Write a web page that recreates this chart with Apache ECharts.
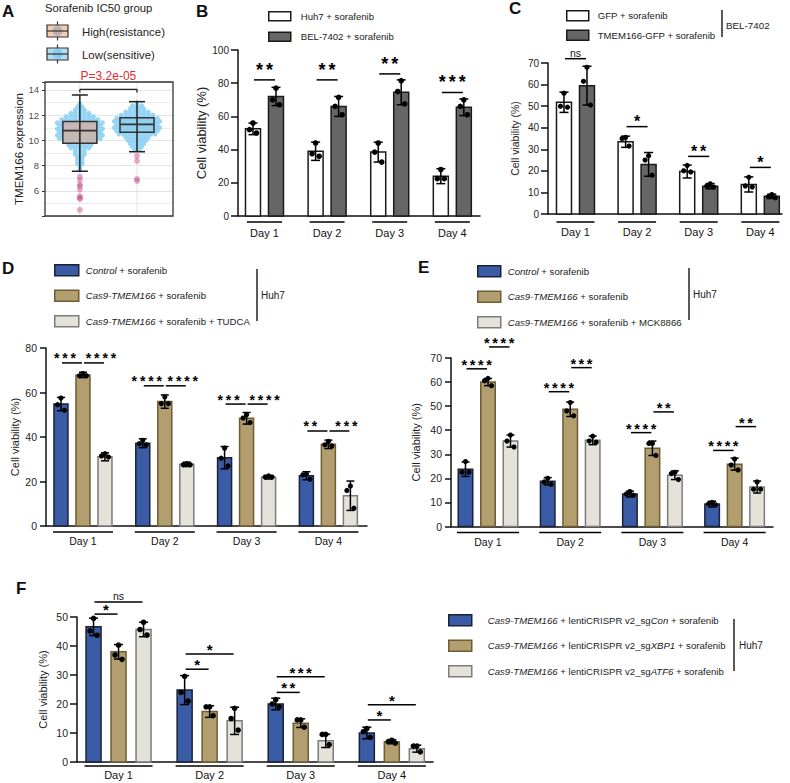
<!DOCTYPE html>
<html>
<head>
<meta charset="utf-8">
<script src="https://cdn.jsdelivr.net/npm/echarts@6/dist/echarts.min.js"></script>
<style>
html,body{margin:0;padding:0;background:#fff;}
#chart{width:790px;height:783px;}
</style>
</head>
<body>
<div id="chart"></div>
<script>
const FONT = '"Liberation Sans", Arial, Helvetica, sans-serif';
const days = ['Day 1', 'Day 2', 'Day 3', 'Day 4'];

// ---------------- Panel A ----------------
const aGroupNames = ['High(resistance)', 'Low(sensitive)'];
// [lower whisker, Q1, median, Q3, upper whisker]
const aBoxHigh = [7.55, 9.77, 10.77, 11.49, 13.6];
const aBoxLow = [9.1, 10.64, 11.27, 11.8, 13.07];
const aOutHigh = [7.12, 6.86, 6.5, 6.38, 6.1, 5.55, 5.45, 5.35, 4.48];
const aOutLow = [8.76, 8.37, 6.94, 6.78];
// swarm density: [expression, number of samples]
const aSwarmHigh = [[12.9,1],[12.65,2],[12.4,3],[12.15,5],[11.9,7],[11.65,9],[11.4,11],[11.15,10],[10.9,11],[10.65,10],[10.4,11],[10.15,10],[9.9,8],[9.65,6],[9.4,5],[9.15,3],[8.9,3],[8.65,2],[8.4,2],[8.15,2],[7.9,1],[7.65,1]];
const aSwarmLow = [[13.0,1],[12.75,3],[12.5,4],[12.25,6],[12.0,8],[11.75,10],[11.5,11],[11.25,10],[11.0,11],[10.75,10],[10.5,9],[10.25,6],[10.0,5],[9.75,4],[9.5,3],[9.25,2]];
const aTicks = [6, 8, 10, 12, 14];
const aBracket = [1, 2, 14.05];
const aPText = 'P=3.2e-05';

// ---------------- Panel B ----------------
const bNames = ['Huh7 + sorafenib', 'BEL-7402 + sorafenib'];
const bHuh7 = [52.5, 39, 38.5, 24];
const bHuh7SD = [3.5, 5.5, 6, 4.5];
const bHuh7Pts = [[56, 52, 50], [44, 37.5, 36], [44, 38.5, 32.5], [28, 22.5, 22.5]];
const bBel = [72, 66, 74.5, 65.5];
const bBelSD = [5.5, 6, 7.5, 5];
const bBelPts = [[77, 70, 67], [71.5, 66, 61], [81.5, 75, 67.5], [70, 66, 61]];
const bTicks = [0, 20, 40, 60, 80, 100];
const bSig = [[0, 0, 1, 82, '**'], [1, 0, 1, 82, '**'], [2, 0, 1, 85.6, '**'], [3, 0, 1, 74.4, '***']];

// ---------------- Panel C ----------------
const cNames = ['GFP + sorafenib', 'TMEM166-GFP + sorafenib'];
const cGFP = [51.8, 33.5, 19.7, 13.7];
const cGFPSD = [4.7, 2.6, 3, 3.5];
const cGFPPts = [[56, 50, 49.5], [35.5, 35, 31.5], [22.5, 20, 19.5], [17, 13, 12.5]];
const cTM = [59.5, 23, 12.9, 8.2];
const cTMSD = [9, 5.5, 1.2, 1];
const cTMPts = [[68, 61.5, 50.5], [27, 25, 18], [14, 13, 12.5], [9, 8, 7.5]];
const cTicks = [0, 10, 20, 30, 40, 50, 60, 70];
const cSig = [[0, 0, 1, 72, 'ns'], [1, 0, 1, 40.5, '*'], [2, 0, 1, 26.7, '**'], [3, 0, 1, 21.6, '*']];

// ---------------- Panel D ----------------
const dNames = ['Control + sorafenib', 'Cas9-TMEM166 + sorafenib', 'Cas9-TMEM166 + sorafenib + TUDCA'];
const dCtrl = [54.8, 37.2, 30.7, 22.6];
const dCtrlSD = [3, 2, 5, 1.8];
const dCtrlPts = [[57.5, 54.5, 52], [38.5, 37, 36.5], [35, 30.5, 27], [23.5, 23, 21]];
const dCas = [67.9, 55.9, 48.4, 36.7];
const dCasSD = [1.2, 3, 2.6, 1.9];
const dCasPts = [[68.5, 67.5, 67.5], [58, 55, 55], [50, 48.5, 46.5], [38, 36.5, 36]];
const dTud = [31.1, 27.7, 21.9, 13.6];
const dTudSD = [1.8, 1, 0.8, 6.6];
const dTudPts = [[32.5, 31.5, 31], [28, 27.5, 27.5], [22.5, 22, 22], [18, 16, 8]];
const dTicks = [0, 20, 40, 60, 80];
const dSig = [[0, 0, 1, 73.3, '***'], [0, 1, 2, 73.3, '****'], [1, 0, 1, 63, '****'], [1, 1, 2, 63, '****'],
              [2, 0, 1, 54.8, '***'], [2, 1, 2, 54.8, '****'], [3, 0, 1, 42.7, '**'], [3, 1, 2, 42.7, '***']];

// ---------------- Panel E ----------------
const eNames = ['Control + sorafenib', 'Cas9-TMEM166 + sorafenib', 'Cas9-TMEM166 + sorafenib + MCK8866'];
const eCtrl = [23.8, 18.8, 13.5, 9.3];
const eCtrlSD = [3, 1.5, 1.2, 1.2];
const eCtrlPts = [[27, 22.5, 22.5], [20, 18.5, 17.5], [14.5, 13.5, 13], [10, 9.5, 9]];
const eCas = [60, 48.7, 32.5, 25.9];
const eCasSD = [1.5, 3, 3, 2.5];
const eCasPts = [[61.5, 60.5, 58.5], [51.5, 48, 46], [34.5, 34.5, 29.5], [28, 25.5, 23.5]];
const eMck = [35.5, 35.8, 21.3, 16.4];
const eMckSD = [2.5, 1.8, 1.8, 2.5];
const eMckPts = [[38, 35.5, 33], [37.5, 35.5, 35], [22.5, 22, 19.5], [18.5, 15.5, 15.5]];
const eTicks = [0, 10, 20, 30, 40, 50, 60, 70];
const eSig = [[0, 0, 1, 65.5, '****'], [0, 1, 2, 74.6, '****'], [1, 0, 1, 56, '****'], [1, 1, 2, 66, '***'],
              [2, 0, 1, 39, '****'], [2, 1, 2, 47.6, '**'], [3, 0, 1, 31.6, '****'], [3, 1, 2, 41.5, '**']];

// ---------------- Panel F ----------------
const fNames = ['Cas9-TMEM166 + lentiCRISPR v2_sgCon + sorafenib', 'Cas9-TMEM166 + lentiCRISPR v2_sgXBP1 + sorafenib', 'Cas9-TMEM166 + lentiCRISPR v2_sgATF6 + sorafenib'];
const fCon = [46.6, 24.8, 20, 10];
const fConSD = [3, 5, 2, 2];
const fConPts = [[49.5, 45.2, 43.7], [29.5, 24, 21], [21.5, 20, 19], [11.5, 10.5, 8.5]];
const fXbp = [38, 17.4, 13.4, 7];
const fXbpSD = [2.5, 2, 1.5, 0.7];
const fXbpPts = [[40.3, 36.9, 35.4], [19, 19, 16], [14.5, 14.5, 12], [7.5, 7, 6.5]];
const fAtf = [45.7, 14.2, 7.3, 4.6];
const fAtfSD = [2.5, 4.7, 2.3, 1.2];
const fAtfPts = [[48.2, 45.7, 43.8], [18.5, 15, 11], [9.5, 9.5, 6], [5.5, 5.5, 3.5]];
const fTicks = [0, 10, 20, 30, 40, 50];
const fSig = [[0, 0, 1, 51, '*'], [0, 0, 2, 55.2, 'ns'], [1, 0, 1, 32, '*'], [1, 0, 2, 37.2, '*'],
              [2, 0, 1, 24, '**'], [2, 0, 2, 29.4, '***'], [3, 0, 1, 14.5, '*'], [3, 0, 2, 19.7, '*']];

// ---------------- styling ----------------
const WHITE = '#ffffff', DARK = '#666666', EDGE = '#1a1a1a';
const BLUE = '#3a5ba5', BLUE_E = '#1c2236';
const TAN = '#b39e6f', TAN_E = '#6e5d34';
const LIGHT = '#e4e2d9', LIGHT_E = '#7c7c7c';
const DOT_OFF = [0, -3.5, 3.5];

const grids = [
  {left: 45, top: 82, width: 128, height: 134},
  {left: 238, top: 50, width: 242, height: 166},
  {left: 548, top: 63, width: 234, height: 151},
  {left: 46, top: 348, width: 321, height: 178},
  {left: 451, top: 358, width: 322, height: 168.5},
  {left: 77, top: 617, width: 356, height: 145}
].map(g => Object.assign({containLabel: false, outerBoundsMode: 'none'}, g));

const xRanges = [[0.39, 2.63], [-0.423, 3.442], [-0.446, 3.352], [-0.452, 3.472], [-0.45, 3.467], [-0.456, 3.452]];
const xAxes = xRanges.map((r, i) => ({
  gridIndex: i, type: 'value', min: r[0], max: r[1], position: 'bottom',
  axisLine: {show: i > 0, onZero: false, lineStyle: {color: '#111', width: 1.5}},
  axisTick: {show: false}, axisLabel: {show: false}, splitLine: {show: false}
}));

function barY(gi, ticks, fs, nameSize, nameGap, tickLen, margin) {
  return {
    gridIndex: gi, type: 'value', position: 'left', min: ticks[0], max: ticks[ticks.length - 1], interval: ticks[1] - ticks[0],
    axisLine: {show: true, onZero: false, lineStyle: {color: '#111', width: 1.5}},
    axisTick: {show: true, length: tickLen, lineStyle: {color: '#111', width: 1.5}},
    axisLabel: {fontSize: fs, color: '#222', fontFamily: FONT, margin: margin},
    splitLine: {show: false},
    name: 'Cell viability (%)', nameLocation: 'middle', nameGap: nameGap,
    nameTextStyle: {fontSize: nameSize, color: '#222', fontFamily: FONT}
  };
}
const yAxes = [
  {
    gridIndex: 0, type: 'value', position: 'left', min: 4, max: 14.63, interval: 2,
    axisLine: {show: false, onZero: false},
    axisTick: {show: true, length: 3, lineStyle: {color: '#333'}},
    axisLabel: {fontSize: 9.5, color: '#4d4d4d', fontFamily: FONT, margin: 6,
      formatter: v => (aTicks.indexOf(v) >= 0 ? String(v) : '')},
    splitLine: {show: true, lineStyle: {color: '#e4e4e4', width: 1}},
    minorTick: {show: false, splitNumber: 2},
    minorSplitLine: {show: true, lineStyle: {color: '#ececec', width: 1}},
    name: 'TMEM166 expression', nameLocation: 'middle', nameGap: 19,
    nameTextStyle: {fontSize: 11.5, color: '#222', fontFamily: FONT}
  },
  barY(1, bTicks, 10, 13, 30, 7, 9),
  barY(2, cTicks, 10, 10.5, 28, 7, 9),
  barY(3, dTicks, 10.5, 11, 26, 6, 9),
  barY(4, eTicks, 10.5, 11, 30, 6, 9),
  barY(5, fTicks, 10.5, 11, 29, 7, 9)
];

// ---------------- series builders ----------------
function lineEl(x1, y1, x2, y2, color, w) {
  return {type: 'line', shape: {x1, y1, x2, y2}, style: {stroke: color || '#000', lineWidth: w || 1.5}};
}
function textEl(x, y, text, font, fill) {
  return {type: 'text', x, y, style: {text, font, fill: fill || '#111', textAlign: 'center', textVerticalAlign: 'middle', align: 'center', verticalAlign: 'middle'}};
}

function barPanel(p) {
  const out = [];
  const off = k => (k - (p.n - 1) / 2) * p.step;
  for (let k = 0; k < p.n; k++) {
    out.push({
      type: 'custom', name: p.names[k], xAxisIndex: p.gi, yAxisIndex: p.gi, silent: true, z: 2,
      itemStyle: {color: p.fills[k], borderColor: p.borders[k]},
      encode: {x: 0, y: 1},
      data: p.means[k].map((v, d) => [d, v]),
      renderItem: (params, api) => {
        const d = api.value(0), v = api.value(1);
        const t = api.coord([d, v]), b = api.coord([d, 0]);
        const cx = t[0] + off(k);
        return {type: 'rect', shape: {x: cx - p.bw / 2, y: t[1], width: p.bw, height: b[1] - t[1]},
          style: {fill: p.fills[k], stroke: p.borders[k], lineWidth: 1.5}};
      }
    });
  }
  for (let k = 0; k < p.n; k++) {
    out.push({
      type: 'custom', name: p.id + '-err' + k, xAxisIndex: p.gi, yAxisIndex: p.gi, silent: true, z: 3,
      encode: {x: 0, y: 1},
      data: p.means[k].map((v, d) => [d, v, p.sds[k][d]]),
      renderItem: (params, api) => {
        const d = api.value(0), m = api.value(1), s = api.value(2);
        const hi = api.coord([d, m + s]), lo = api.coord([d, m - s]);
        const cx = hi[0] + off(k);
        return {type: 'group', children: [
          lineEl(cx, hi[1], cx, lo[1]),
          lineEl(cx - p.cap, hi[1], cx + p.cap, hi[1]),
          lineEl(cx - p.cap, lo[1], cx + p.cap, lo[1])
        ]};
      }
    });
  }
  for (let k = 0; k < p.n; k++) {
    const data = [];
    p.pts[k].forEach((reps, d) => reps.forEach((v, r) => data.push([d, v, r])));
    out.push({
      type: 'custom', name: p.id + '-dots' + k, xAxisIndex: p.gi, yAxisIndex: p.gi, silent: true, z: 4,
      encode: {x: 0, y: 1},
      data: data,
      renderItem: (params, api) => {
        const c = api.coord([api.value(0), api.value(1)]);
        return {type: 'circle', shape: {cx: c[0] + off(k) + DOT_OFF[api.value(2)], cy: c[1], r: p.dotR}, style: {fill: '#000'}};
      }
    });
  }
  out.push({
    type: 'custom', name: p.id + '-sig', xAxisIndex: p.gi, yAxisIndex: p.gi, silent: true, z: 4,
    encode: {x: 0, y: 1},
    data: p.sig.map(s => [s[0], s[3]]),
    renderItem: (params, api) => {
      const s = p.sig[params.dataIndex];
      const c = api.coord([s[0], s[3]]);
      const x1 = c[0] + off(s[1]) + 1, x2 = c[0] + off(s[2]) - 1;
      // two brackets side by side at the same height: push their labels apart
      const sibling = p.sig.some((o, j) => j !== params.dataIndex && o[0] === s[0] && o[3] === s[3]);
      const mid = (x1 + x2) / 2 + (sibling ? (s[1] === 0 ? -p.pairShift : p.pairShift) : 0);
      const ch = [lineEl(x1, c[1], x2, c[1])];
      const lab = s[4];
      if (lab === 'ns') {
        ch.push(textEl(mid, c[1] - p.nsDy, 'ns', p.nsSize + 'px ' + FONT));
      } else {
        for (let i = 0; i < lab.length; i++) {
          ch.push(textEl(mid + (i - (lab.length - 1) / 2) * p.pitch, c[1] - p.starDy, '*', 'bold ' + p.starSize + 'px ' + FONT, '#000'));
        }
      }
      return {type: 'group', children: ch};
    }
  });
  out.push({
    type: 'custom', name: p.id + '-days', xAxisIndex: p.gi, yAxisIndex: p.gi, silent: true,
    encode: {x: 0, y: 1},
    data: days.map((_, d) => [d, 0]),
    renderItem: (params, api) => {
      const c = api.coord([api.value(0), 0]);
      return {type: 'group', children: [
        lineEl(c[0] - p.ulHalf, c[1] + p.ulDy, c[0] + p.ulHalf, c[1] + p.ulDy),
        textEl(c[0], c[1] + p.dayDy, days[params.dataIndex], p.dayFont + 'px ' + FONT, '#111')
      ]};
    }
  });
  return out;
}

const panels = [
  {id: 'B', gi: 1, n: 2, step: 23, bw: 15, cap: 4.5, dotR: 2.8, starDy: 10, starSize: 18, pitch: 10, pairShift: 0, nsDy: 6, nsSize: 10.5,
   ulHalf: 17.5, ulDy: 6, dayDy: 17, dayFont: 11,
   names: bNames, means: [bHuh7, bBel], sds: [bHuh7SD, bBelSD], pts: [bHuh7Pts, bBelPts],
   fills: [WHITE, DARK], borders: [EDGE, EDGE], sig: bSig},
  {id: 'C', gi: 2, n: 2, step: 23, bw: 15, cap: 4.5, dotR: 2.6, starDy: 5, starSize: 16, pitch: 9, pairShift: 0, nsDy: 6, nsSize: 10.5,
   ulHalf: 19, ulDy: 8, dayDy: 18, dayFont: 11,
   names: cNames, means: [cGFP, cTM], sds: [cGFPSD, cTMSD], pts: [cGFPPts, cTMPts],
   fills: [WHITE, DARK], borders: [EDGE, EDGE], sig: cSig},
  {id: 'D', gi: 3, n: 3, step: 22, bw: 14, cap: 4, dotR: 2.6, starDy: 4.5, starSize: 14, pitch: 8.3, pairShift: 7, nsDy: 6, nsSize: 10.5,
   ulHalf: 30, ulDy: 6, dayDy: 15, dayFont: 10.5,
   names: dNames, means: [dCtrl, dCas, dTud], sds: [dCtrlSD, dCasSD, dTudSD], pts: [dCtrlPts, dCasPts, dTudPts],
   fills: [BLUE, TAN, LIGHT], borders: [BLUE_E, TAN_E, LIGHT_E], sig: dSig},
  {id: 'E', gi: 4, n: 3, step: 22.5, bw: 14.5, cap: 4, dotR: 2.6, starDy: 4, starSize: 14.5, pitch: 8.2, pairShift: 0, nsDy: 6, nsSize: 10.5,
   ulHalf: 31, ulDy: 6, dayDy: 15, dayFont: 10.5,
   names: eNames, means: [eCtrl, eCas, eMck], sds: [eCtrlSD, eCasSD, eMckSD], pts: [eCtrlPts, eCasPts, eMckPts],
   fills: [BLUE, TAN, LIGHT], borders: [BLUE_E, TAN_E, LIGHT_E], sig: eSig},
  {id: 'F', gi: 5, n: 3, step: 25, bw: 15, cap: 4.5, dotR: 2.8, starDy: 4.5, starSize: 15, pitch: 8.2, pairShift: 0, nsDy: 6, nsSize: 10.5,
   ulHalf: 34, ulDy: 4, dayDy: 13, dayFont: 11,
   names: fNames, means: [fCon, fXbp, fAtf], sds: [fConSD, fXbpSD, fAtfSD], pts: [fConPts, fXbpPts, fAtfPts],
   fills: [BLUE, TAN, LIGHT], borders: [BLUE_E, TAN_E, LIGHT_E], sig: fSig}
];

// ---------------- Panel A series ----------------
function swarmPoints(bins, gx) {
  const pts = [];
  bins.forEach(b => {
    const y = b[0], c = b[1];
    for (let j = 0; j < c; j++) pts.push([gx + (j - (c - 1) / 2) * 0.079, y]);
  });
  return pts;
}
const A_MIN = [0.39, 4], A_MAX = [2.63, 14.63];
const aSeries = [
  {
    type: 'custom', name: 'A-vgrid', xAxisIndex: 0, yAxisIndex: 0, silent: true, z: 1, encode: {x: 0, y: 1},
    data: [[1, 4], [2, 4]],
    renderItem: (params, api) => {
      const b = api.coord([api.value(0), A_MIN[1]]), t = api.coord([api.value(0), A_MAX[1]]);
      return lineEl(b[0], b[1], t[0], t[1], '#e4e4e4', 1);
    }
  },
  {type: 'scatter', name: 'A-swarm-high', xAxisIndex: 0, yAxisIndex: 0, silent: true, symbolSize: 5, z: 2,
   itemStyle: {color: '#8ed2f5', opacity: 0.9}, data: swarmPoints(aSwarmHigh, 1)},
  {type: 'scatter', name: 'A-swarm-low', xAxisIndex: 0, yAxisIndex: 0, silent: true, symbolSize: 5, z: 2,
   itemStyle: {color: '#8ed2f5', opacity: 0.9}, data: swarmPoints(aSwarmLow, 2)},
  {
    type: 'custom', name: 'A-box', xAxisIndex: 0, yAxisIndex: 0, silent: true, z: 6,
    encode: {x: 0, y: [1, 2, 3, 4, 5]},
    data: [[1].concat(aBoxHigh), [2].concat(aBoxLow)],
    renderItem: (params, api) => {
      const g = api.value(0);
      const ys = [1, 2, 3, 4, 5].map(i => api.coord([g, api.value(i)])[1]);
      const xc = api.coord([g, 10])[0];
      const fill = params.dataIndex === 0 ? 'rgba(222,168,145,0.65)' : 'rgba(140,205,235,0.6)';
      return {type: 'group', children: [
        {type: 'rect', shape: {x: xc - 17, y: ys[3], width: 34, height: ys[1] - ys[3]}, style: {fill: fill, stroke: '#333', lineWidth: 1.5}},
        lineEl(xc, ys[4], xc, ys[0], '#222', 1.5),
        lineEl(xc - 8, ys[4], xc + 8, ys[4], '#222', 1.5),
        lineEl(xc - 8, ys[0], xc + 8, ys[0], '#222', 1.5),
        lineEl(xc - 17, ys[2], xc + 17, ys[2], '#333', 1.8)
      ]};
    }
  },
  {type: 'scatter', name: 'A-out-high', xAxisIndex: 0, yAxisIndex: 0, silent: true, symbolSize: 6, z: 7,
   itemStyle: {color: 'rgba(196,70,130,0.55)'}, data: aOutHigh.map(v => [1, v])},
  {type: 'scatter', name: 'A-out-low', xAxisIndex: 0, yAxisIndex: 0, silent: true, symbolSize: 6, z: 7,
   itemStyle: {color: 'rgba(196,70,130,0.55)'}, data: aOutLow.map(v => [2, v])},
  {
    type: 'custom', name: 'A-frame', xAxisIndex: 0, yAxisIndex: 0, silent: true, z: 8, encode: {x: 0, y: 1},
    data: [A_MIN],
    renderItem: (params, api) => {
      const lo = api.coord(A_MIN), hi = api.coord(A_MAX);
      return {type: 'rect', shape: {x: lo[0], y: hi[1], width: hi[0] - lo[0], height: lo[1] - hi[1]},
        style: {fill: 'none', stroke: '#333', lineWidth: 1.3}};
    }
  },
  {
    type: 'custom', name: 'A-bracket', xAxisIndex: 0, yAxisIndex: 0, silent: true, z: 8, encode: {x: 0, y: 2},
    data: [aBracket],
    renderItem: (params, api) => {
      const p1 = api.coord([api.value(0), api.value(2)]), p2 = api.coord([api.value(1), api.value(2)]);
      const drop = api.coord([api.value(1), api.value(2) - 0.25]);
      return {type: 'group', children: [
        lineEl(p1[0], p1[1], p2[0], p2[1], '#222', 1.3),
        lineEl(p1[0], p1[1], p1[0], drop[1], '#222', 1.3),
        lineEl(p2[0], p2[1], p2[0], drop[1], '#222', 1.3),
        textEl((p1[0] + p2[0]) / 2, p1[1] - 13, aPText, '12px ' + FONT, '#e8282b')
      ]};
    }
  }
];

let series = aSeries.slice();
panels.forEach(p => { series = series.concat(barPanel(p)); });

// ---------------- legends ----------------
const italicRe = /(Control|Cas9-TMEM166|Con(?= )|XBP1|ATF6)/g;
function mkLegend(left, top, names, fills, borders, iw, ih, gap, pad) {
  return {
    show: true, left: left, top: top, orient: 'vertical', icon: 'rect', itemWidth: iw, itemHeight: ih, itemGap: gap,
    selectedMode: false, padding: 0,
    data: names.map((n, i) => ({name: n, icon: 'rect', itemStyle: {color: fills[i], borderColor: borders[i], borderWidth: 1.5}})),
    formatter: n => n.replace(italicRe, '{i|$1}'),
    textStyle: {fontFamily: FONT, fontSize: 9.6, color: '#222', lineHeight: ih, padding: [0, 0, 0, pad],
      rich: {i: {fontFamily: FONT, fontSize: 9.6, fontStyle: 'italic', color: '#222', lineHeight: ih}}}
  };
}
const legends = [
  mkLegend(268, 11, bNames, [WHITE, DARK], [EDGE, EDGE], 22, 9, 10, 5),
  mkLegend(566, 10, cNames, [WHITE, DARK], [EDGE, EDGE], 22, 10, 8, 4),
  mkLegend(54, 264, dNames, [BLUE, TAN, LIGHT], [BLUE_E, TAN_E, LIGHT_E], 24, 11, 13, 2),
  mkLegend(477, 265, eNames, [BLUE, TAN, LIGHT], [BLUE_E, TAN_E, LIGHT_E], 23, 11, 13, 2),
  mkLegend(448, 614, fNames, [BLUE, TAN, LIGHT], [BLUE_E, TAN_E, LIGHT_E], 23, 11, 13, 11)
];

// ---------------- graphic annotations ----------------
function gText(x, y, text, font, fill, align) {
  return {type: 'text', x: x, y: y, silent: true,
    style: {text: text, font: font, fill: fill || '#222', textAlign: align || 'left', textVerticalAlign: 'middle', align: align || 'left', verticalAlign: 'middle'}};
}
function gLine(x1, y1, x2, y2, w, c) {
  return {type: 'line', silent: true, shape: {x1, y1, x2, y2}, style: {stroke: c || '#2b211c', lineWidth: w || 1.5}};
}
const LETTER = 'bold 17px ' + FONT;
const graphics = [
  gText(2, 11, 'A', LETTER, '#111'),
  gText(196, 11, 'B', LETTER, '#111'),
  gText(509, 8, 'C', LETTER, '#111'),
  gText(2, 268, 'D', LETTER, '#111'),
  gText(418, 267, 'E', LETTER, '#111'),
  gText(16, 588, 'F', LETTER, '#111'),
  // panel A legend
  gText(45, 8, 'Sorafenib IC50 group', '11.3px ' + FONT, '#222'),
  gLine(57.5, 21.5, 57.5, 40.5, 1.2, '#333'),
  {type: 'rect', silent: true, shape: {x: 47, y: 25, width: 21, height: 12}, style: {fill: '#f2cdb3', stroke: '#333', lineWidth: 1.2}},
  {type: 'circle', silent: true, shape: {cx: 57.5, cy: 31, r: 5}, style: {fill: 'rgba(150,150,175,0.55)'}},
  gLine(47, 31, 68, 31, 1.2, '#333'),
  gLine(57.5, 44.5, 57.5, 63.5, 1.2, '#333'),
  {type: 'rect', silent: true, shape: {x: 47, y: 48, width: 21, height: 12}, style: {fill: '#b5def0', stroke: '#333', lineWidth: 1.2}},
  {type: 'circle', silent: true, shape: {cx: 57.5, cy: 54, r: 5}, style: {fill: 'rgba(120,200,240,0.8)'}},
  gLine(47, 54, 68, 54, 1.2, '#333'),
  gText(82, 32, aGroupNames[0], '11.4px ' + FONT, '#222'),
  gText(82, 55, aGroupNames[1], '11.4px ' + FONT, '#222'),
  // cell line brackets
  gLine(722, 10, 722, 37, 1.5),
  gText(726, 25, 'BEL-7402', '9.8px ' + FONT, '#222'),
  gLine(257, 269, 257, 321, 1.5),
  gText(261, 295, 'Huh7', '10px ' + FONT, '#222'),
  gLine(689, 268, 689, 320, 1.5),
  gText(693, 294, 'Huh7', '10px ' + FONT, '#222'),
  gLine(734, 619, 734, 671, 1.5),
  gText(739, 645, 'Huh7', '10px ' + FONT, '#222')
];

const chart = echarts.init(document.getElementById('chart'), null, {renderer: 'svg', width: 790, height: 783});
chart.setOption({
  backgroundColor: '#ffffff',
  animation: false,
  textStyle: {fontFamily: FONT},
  grid: grids,
  xAxis: xAxes,
  yAxis: yAxes,
  legend: legends,
  tooltip: {show: false},
  graphic: {elements: graphics},
  series: series
});
</script>
</body>
</html>
